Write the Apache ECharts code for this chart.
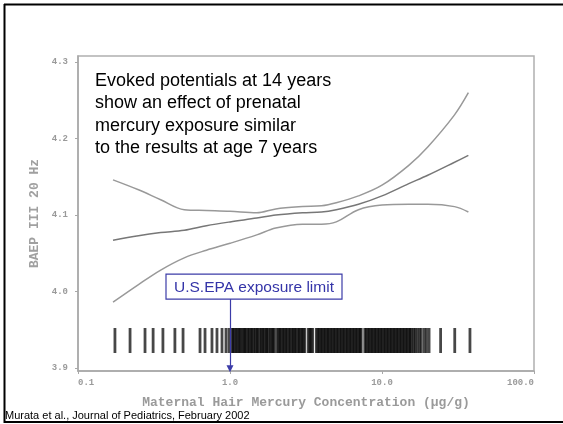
<!DOCTYPE html>
<html>
<head>
<meta charset="utf-8">
<script src="https://cdn.jsdelivr.net/npm/echarts@6/dist/echarts.min.js"></script>
<style>
  html, body { margin: 0; padding: 0; background: #fff; }
  #chart { width: 563px; height: 424px; }
</style>
</head>
<body>
<div id="chart"></div>
<script>
// Maternal hair mercury (µg/g) at which the fitted curve is evaluated
const concentration = [0.17, 0.25, 0.35, 0.5, 0.7, 1.0, 1.5, 2, 3, 4, 5, 7, 10, 15, 20, 30, 37];
// Fitted BAEP latency III at 20 Hz (ms) and its 95% band
const estimate = [4.067, 4.073, 4.077, 4.080, 4.086, 4.091, 4.096, 4.100, 4.103, 4.104, 4.107, 4.114, 4.125, 4.141, 4.152, 4.169, 4.178];
const upperCI  = [4.146, 4.133, 4.120, 4.107, 4.106, 4.105, 4.103, 4.108, 4.111, 4.112, 4.116, 4.125, 4.139, 4.165, 4.189, 4.231, 4.260];
const lowerCI  = [3.986, 4.009, 4.028, 4.044, 4.054, 4.063, 4.074, 4.083, 4.088, 4.088, 4.091, 4.107, 4.113, 4.114, 4.114, 4.111, 4.104];
// Individual maternal hair mercury values (rug)
const rugValues = [
  0.175, 0.22, 0.276, 0.312, 0.362, 0.434, 0.491, 0.635, 0.685, 0.761, 0.821, 0.886, 0.941, 0.985,
  1.03, 1.05, 1.07, 1.10, 1.12, 1.15, 1.17, 1.20, 1.23, 1.25, 1.28, 1.31, 1.34, 1.37, 1.40, 1.43,
  1.47, 1.50, 1.53, 1.57, 1.61, 1.64, 1.68, 1.72, 1.75, 1.79, 1.84, 1.88, 1.92, 1.96, 2.04, 2.09,
  2.13, 2.18, 2.23, 2.28, 2.33, 2.38, 2.44, 2.49, 2.55, 2.61, 2.66, 2.72, 2.79, 2.85, 2.91, 2.98,
  3.04, 3.11, 3.28, 3.35, 3.42, 3.50, 3.70, 3.78, 3.87, 3.95, 4.04, 4.13, 4.22, 4.32, 4.41, 4.51,
  4.61, 4.72, 4.82, 4.93, 5.04, 5.15, 5.27, 5.39, 5.51, 5.63, 5.76, 5.89, 6.02, 6.15, 6.29, 6.43,
  6.58, 6.72, 6.87, 7.03, 7.18, 7.30, 7.70, 7.87, 8.05, 8.23, 8.41, 8.60, 8.79, 8.99, 9.19, 9.40,
  9.61, 9.82, 10.04, 10.27, 10.50, 10.73, 10.97, 11.22, 11.47, 11.73, 11.99, 12.26, 12.53, 12.81,
  13.10, 13.39, 13.69, 14.00, 14.31, 14.63, 14.96, 15.3,
  15.6, 16.1, 16.5, 17.0, 17.6, 18.1, 18.9, 19.6, 20.4, 24.3, 30.1, 37.9
];
const yTicks = [3.9, 4.0, 4.1, 4.2, 4.3];
const EPA_LIMIT = 1.0;
const EPA_ARROW_FROM = 3.990;

const headline = [
  'Evoked potentials at 14 years',
  'show an effect of prenatal',
  'mercury exposure similar',
  'to the results at age 7 years'
];
const epaText = 'U.S.EPA exposure limit';
const source = 'Murata et al., Journal of Pediatrics, February 2002';

const sasFont = '"Liberation Mono", "DejaVu Sans Mono", monospace';
const axisGrey = '#a8a8a8';

const chart = echarts.init(document.getElementById('chart'), null, { renderer: 'canvas' });

const curve = (vals, color, width) => ({
  type: 'line',
  data: concentration.map((c, i) => [c, vals[i]]),
  smooth: 0.35,
  showSymbol: false,
  lineStyle: { color: color, width: width },
  z: 3
});

const option = {
  animation: false,
  backgroundColor: '#fff',
  grid: { left: 78, right: 29, top: 56, bottom: 53, show: true, borderColor: '#b0b0b0', borderWidth: 1.5 },
  xAxis: {
    type: 'log',
    logBase: 10,
    min: 0.1,
    max: 100,
    name: 'Maternal Hair Mercury Concentration (\u00b5g/g)',
    nameLocation: 'middle',
    nameGap: 25,
    nameTextStyle: { fontFamily: sasFont, fontSize: 13, fontWeight: 'bold', color: '#9a9a9a' },
    axisLine: { lineStyle: { color: axisGrey, width: 1.5 } },
    axisTick: { length: 3, lineStyle: { color: axisGrey } },
    minorTick: { show: false },
    splitLine: { show: false },
    axisLabel: {
      fontFamily: sasFont, fontSize: 9, fontWeight: 'bold', color: '#9a9a9a', margin: 7,
      alignMinLabel: 'left', alignMaxLabel: 'right',
      formatter: v => Number(v).toFixed(1)
    }
  },
  yAxis: {
    type: 'value',
    min: 3.896,
    max: 4.308,
    name: 'BAEP III 20 Hz',
    nameLocation: 'middle',
    nameGap: 36,
    nameRotate: 90,
    nameTextStyle: { fontFamily: sasFont, fontSize: 13, fontWeight: 'bold', color: '#a0a0a0' },
    axisLine: { show: true, lineStyle: { color: axisGrey, width: 1.5 } },
    axisTick: { show: true, length: 3, customValues: yTicks, lineStyle: { color: axisGrey } },
    splitLine: { show: false },
    axisLabel: {
      customValues: yTicks, margin: 10,
      fontFamily: sasFont, fontSize: 9, fontWeight: 'bold', color: '#9a9a9a',
      formatter: v => Number(v).toFixed(1)
    }
  },
  series: [
    curve(upperCI, '#999999', 1.5),
    curve(lowerCI, '#999999', 1.5),
    Object.assign(curve(estimate, '#777777', 1.5), {
      markLine: {
        silent: true,
        symbol: ['none', 'triangle'],
        symbolSize: [7, 7],
        lineStyle: { color: '#3c3ca8', width: 1.2, type: 'solid' },
        label: { show: false },
        data: [[{ coord: [EPA_LIMIT, EPA_ARROW_FROM] }, { coord: [EPA_LIMIT, 3.899] }]]
      }
    }),
    {
      // rug of individual values; overlapping translucent strokes build up to solid black
      type: 'custom',
      data: rugValues.map(v => [v]),
      encode: { x: 0 },
      z: 2,
      renderItem: (params, api) => {
        const x = api.coord([api.value(0), 4.0])[0];
        const bottom = params.coordSys.y + params.coordSys.height;
        return {
          type: 'line',
          shape: { x1: x, y1: bottom - 43, x2: x, y2: bottom - 18 },
          style: { stroke: '#000', lineWidth: 2.8, opacity: 0.72 }
        };
      }
    }
  ]
};

chart.setOption(option);

// annotation box anchored to the top of the EPA arrow
const anchor = chart.convertToPixel({ gridIndex: 0 }, [EPA_LIMIT, EPA_ARROW_FROM]);
chart.setOption({
  graphic: [
    {
      type: 'text', left: 95, top: 70, z: 10,
      style: { text: headline.join('\n'), font: '18px "Liberation Sans", Arial, sans-serif', fill: '#000', lineHeight: 22.3 }
    },
    {
      type: 'group', x: anchor[0] - 64, y: anchor[1] - 25, z: 10,
      children: [
        { type: 'rect', shape: { x: 0, y: 0, width: 176, height: 25 },
          style: { fill: '#fff', stroke: '#3c3ca8', lineWidth: 1.2 } },
        { type: 'text', x: 88, y: 14,
          style: { text: epaText, font: '15.5px "Liberation Sans", Arial, sans-serif', fill: '#3434a8',
                   align: 'center', verticalAlign: 'middle' } }
      ]
    },
    {
      type: 'text', left: 5, top: 410, z: 10,
      style: { text: source, font: '11px "Liberation Sans", Arial, sans-serif', fill: '#000' }
    },
    // slide frame
    { type: 'line', z: 20, shape: { x1: 4, y1: 4.5, x2: 563, y2: 4.5 }, style: { stroke: '#000', lineWidth: 2 } },
    { type: 'line', z: 20, shape: { x1: 4.5, y1: 4, x2: 4.5, y2: 423 }, style: { stroke: '#000', lineWidth: 2 } },
    { type: 'line', z: 20, shape: { x1: 4, y1: 422, x2: 563, y2: 422 }, style: { stroke: '#000', lineWidth: 2 } }
  ]
});
</script>
</body>
</html>
